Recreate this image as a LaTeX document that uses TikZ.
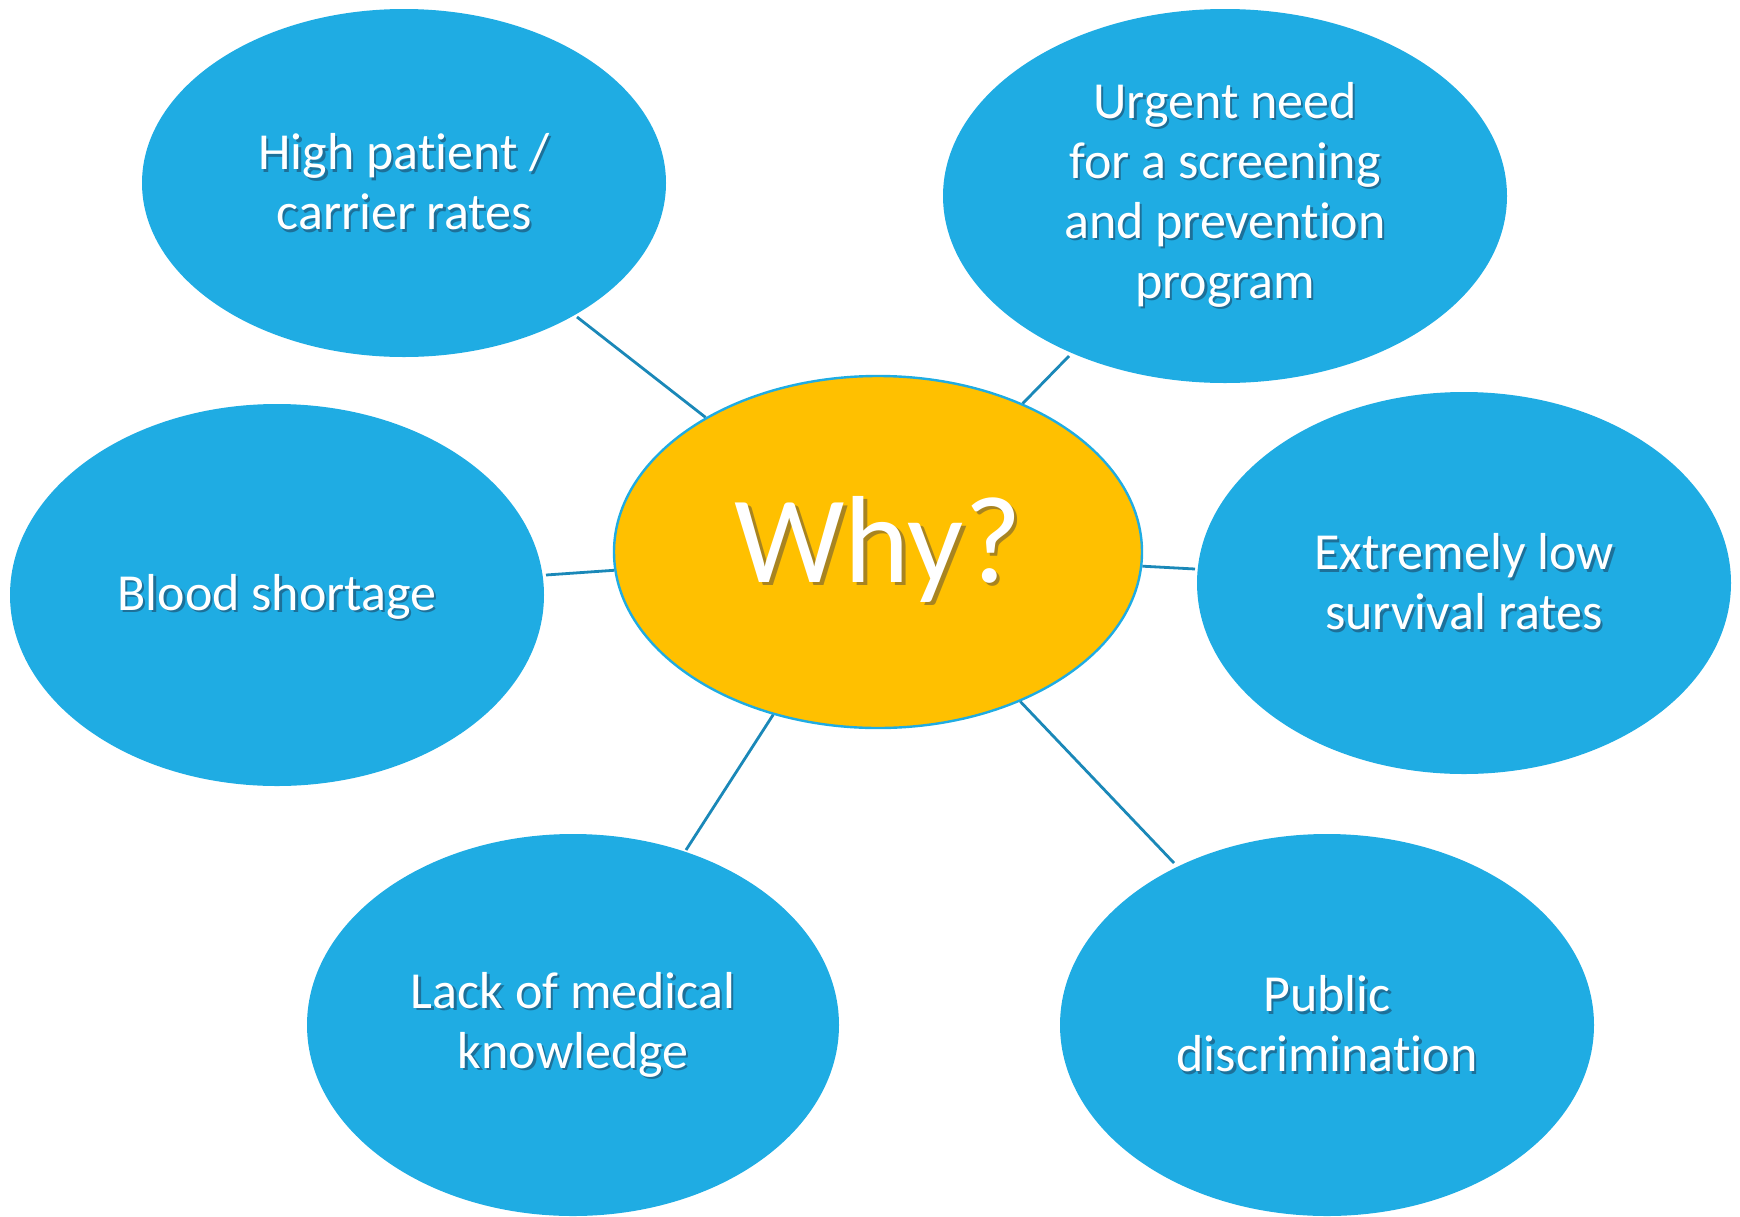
\documentclass[tikz,border=0pt]{standalone}
\usepackage{fontspec}
\setmainfont[Ligatures=NoCommon]{Carlito}
\usetikzlibrary{shapes.geometric}
\definecolor{bubble}{HTML}{1FACE3}
\definecolor{core}{HTML}{FFC000}
\definecolor{link}{HTML}{1A88B8}
\definecolor{shblue}{HTML}{1D7099}
\definecolor{shcore}{HTML}{A88420}
\newcommand\shb[1]{\makebox[0pt][l]{\hspace{1.2pt}\raisebox{-1.2pt}{\textcolor{shblue}{#1}}}#1}
\newcommand\shy[1]{\makebox[0pt][l]{\hspace{1.8pt}\raisebox{-1.8pt}{\textcolor{shcore}{#1}}}#1}
\tikzset{
  bub/.style={ellipse, fill=bubble, draw=none, inner sep=0pt},
  corebub/.style={ellipse, fill=core, draw=bubble, line width=1.2pt, inner sep=0pt},
  txt/.style={text=white, align=center, font=\fontsize{26pt}{30pt}\selectfont},
  conn/.style={draw=link, line width=1.4pt},
}
\begin{document}
\begin{tikzpicture}[x=0.5pt,y=-0.5pt]
\useasboundingbox (0,0) rectangle (1740,1216);
% bubbles
\node[bub, minimum width=262pt, minimum height=174pt] (hp) at (404,183) {};
\node[bub, minimum width=282pt, minimum height=187pt] (ur) at (1225,196) {};
\node[bub, minimum width=267pt, minimum height=191pt] (bs) at (277,595) {};
\node[bub, minimum width=267pt, minimum height=191pt] (ex) at (1464,583) {};
\node[bub, minimum width=266pt, minimum height=191pt] (lk) at (573,1025) {};
\node[bub, minimum width=267pt, minimum height=191pt] (pd) at (1327,1025) {};
\node[corebub, minimum width=264pt, minimum height=176pt] (why) at (878,552) {};
% connector free ends (just off the outer bubbles)
\coordinate (c1) at (577,317);
\coordinate (c2) at (1069,356);
\coordinate (c3) at (546,575);
\coordinate (c4) at (1195,569);
\coordinate (c5) at (686,850);
\coordinate (c6) at (1174,863);
\foreach \c in {c1,c2,c3,c4,c5,c6}
  \draw[conn] (why) -- (\c);
% texts
\node[txt] (hpT) at (404,183) {\shb{High patient /}\\\shb{carrier rates}};
\node[txt] (urT) at (1225,196) {\shb{Urgent need}\\\shb{for a screening}\\\shb{and prevention}\\\shb{program}};
\node[txt] (bsT) at (277,598) {\shb{Blood shortage}};
\node[txt] (exT) at (1464,583) {\shb{Extremely low}\\\shb{survival rates}};
\node[txt] (lkT) at (573,1026) {\shb{Lack of medical}\\\shb{knowledge}};
\node[txt] (pdT) at (1327,1025) {\shb{Public}\\\shb{discrimination}};
\node[txt, font=\fontsize{62pt}{70pt}\selectfont] (whyT) at (878,551) {\shy{Why?}};
\end{tikzpicture}
\end{document}
